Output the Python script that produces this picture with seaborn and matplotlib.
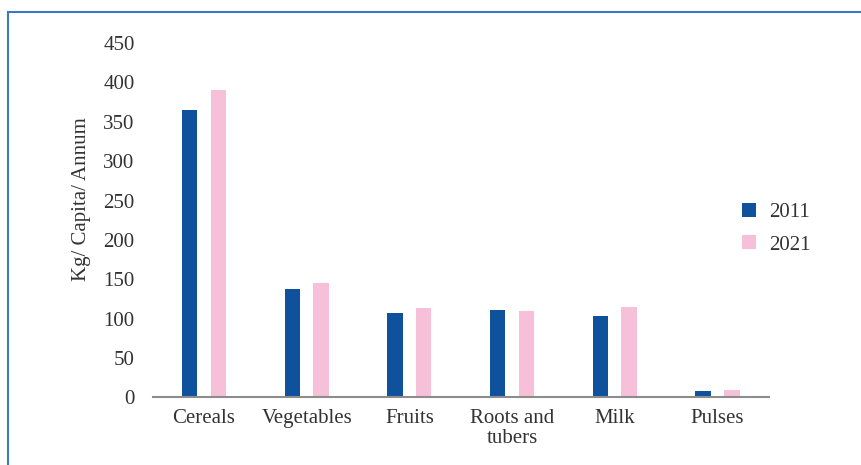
import matplotlib
matplotlib.use("Agg")
import matplotlib.pyplot as plt
import seaborn as sns
import pandas as pd
from matplotlib.patches import Rectangle

# Per-capita availability by food group (kg per person per year)
categories = ["Cereals", "Vegetables", "Fruits", "Roots and\ntubers", "Milk", "Pulses"]
values_2011 = [365, 138, 107, 111, 104, 8]
values_2021 = [390, 145, 114, 110, 115, 9.5]
years = ["2011", "2021"]
colors = ["#0f519c", "#f5c0d8"]
y_ticks = [0, 50, 100, 150, 200, 250, 300, 350, 400, 450]

df = pd.DataFrame({
    "category": categories * 2,
    "year": [years[0]] * len(categories) + [years[1]] * len(categories),
    "value": values_2011 + values_2021,
})

sns.set_theme(style="white")
plt.rcParams["font.family"] = ["Liberation Serif", "DejaVu Serif"]

text_color = "#333333"
fs = 15

fig = plt.figure(figsize=(8.61, 4.65), dpi=100)
fig.patch.set_facecolor("white")
ax = fig.add_axes([0.1773, 0.1452, 0.7155, 0.7623])

sns.barplot(data=df, x="category", y="value", hue="year", order=categories,
            hue_order=years, palette=colors, width=0.564, gap=0.47,
            saturation=1, linewidth=0, ax=ax, legend=True)

ax.set_ylim(0, 450)
ax.set_yticks(y_ticks)
ax.set_xlim(-0.5, len(categories) - 0.5)
ax.tick_params(axis="y", length=0, pad=13, labelsize=fs, labelcolor=text_color)
ax.tick_params(axis="x", length=0, pad=8, labelsize=fs, labelcolor=text_color)
for lbl in ax.get_xticklabels():
    lbl.set_linespacing(1.1)

for side in ["top", "right", "left"]:
    ax.spines[side].set_visible(False)
ax.spines["bottom"].set_color("#8c8c8c")
ax.spines["bottom"].set_linewidth(1.5)

ax.set_xlabel("")
ax.set_ylabel("Kg/ Capita/ Annum", fontsize=fs, color=text_color)
ax.yaxis.set_label_coords(-0.1, 0.56)

leg = ax.legend(loc="upper left", bbox_to_anchor=(742 / 861, 1 - 203 / 465),
                bbox_transform=fig.transFigure, frameon=False, fontsize=fs,
                handlelength=0.67, handleheight=0.67, handletextpad=0.62,
                labelspacing=0.62, borderpad=0, borderaxespad=0)
for t in leg.get_texts():
    t.set_color(text_color)

# Outer panel border (open at the right and bottom edges)
fig.patches.append(Rectangle((8.3 / 861, -0.05), 1.2, 1 - 12.3 / 465 + 0.05,
                             transform=fig.transFigure, fill=False,
                             edgecolor="#3a78c0", linewidth=1.5, zorder=0))

fig.savefig("out.png", dpi=100, facecolor="white")
